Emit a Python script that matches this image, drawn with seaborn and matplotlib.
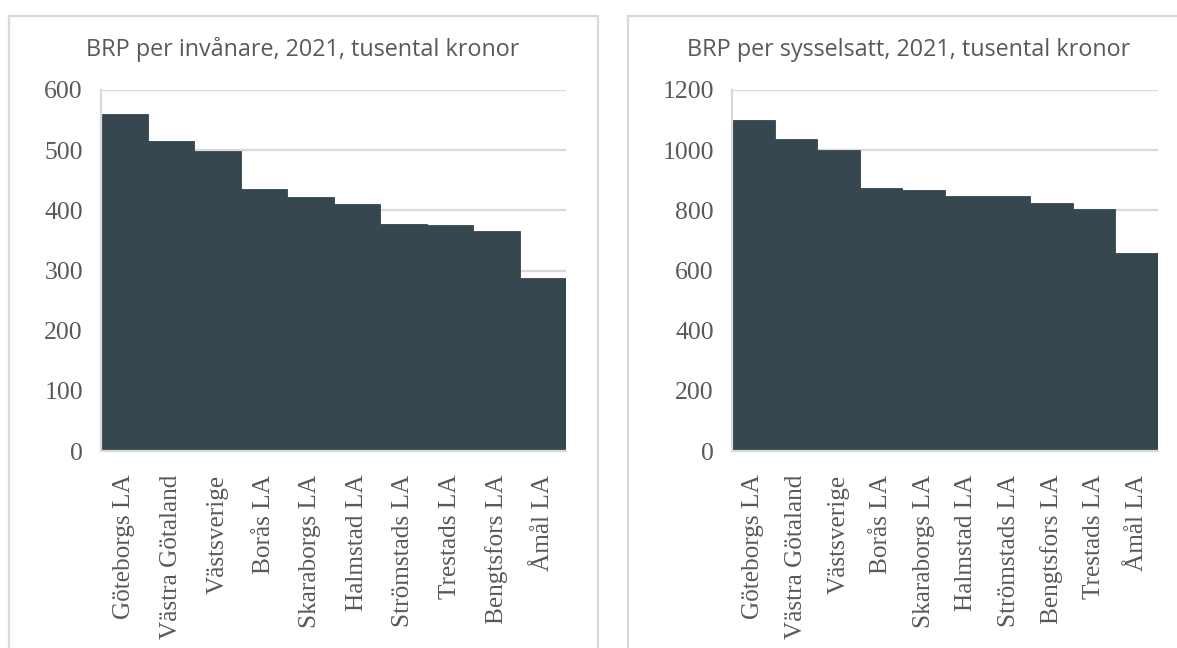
"""BRP per invånare / per sysselsatt, 2021 — two side-by-side bar charts."""
import matplotlib
matplotlib.use("Agg")
import matplotlib.pyplot as plt
from matplotlib.patches import Rectangle
import pandas as pd
import seaborn as sns

LEFT_TITLE = "BRP per invånare, 2021, tusental kronor"
LEFT_CATEGORIES = [
    "Göteborgs LA", "Västra Götaland", "Västsverige", "Borås LA",
    "Skaraborgs LA", "Halmstad LA", "Strömstads LA", "Trestads LA",
    "Bengtsfors LA", "Åmål LA",
]
LEFT_VALUES = [560, 516, 499, 435, 422, 410, 378, 375, 365, 287]
LEFT_TICKS = [0, 100, 200, 300, 400, 500, 600]

RIGHT_TITLE = "BRP per sysselsatt, 2021, tusental kronor"
RIGHT_CATEGORIES = [
    "Göteborgs LA", "Västra Götaland", "Västsverige", "Borås LA",
    "Skaraborgs LA", "Halmstad LA", "Strömstads LA", "Bengtsfors LA",
    "Trestads LA", "Åmål LA",
]
RIGHT_VALUES = [1100, 1036, 999, 873, 866, 846, 846, 826, 803, 657]
RIGHT_TICKS = [0, 200, 400, 600, 800, 1000, 1200]

BAR = "#36474f"
GRID = "#d9d9d9"
TEXT = "#595959"
W, H = 1177, 648

sns.set_theme(style="white")
plt.rcParams["font.family"] = ["Liberation Serif", "DejaVu Serif"]


def draw(ax, cats, vals, ticks):
    df = pd.DataFrame({"cat": cats, "val": vals})
    sns.barplot(data=df, x="cat", y="val", color=BAR, width=1.0,
                saturation=1, edgecolor=BAR, linewidth=0.6, ax=ax)
    ax.set_xlim(-0.5, len(cats) - 0.5)
    ax.set_ylim(ticks[0], ticks[-1])
    ax.set_yticks(ticks)
    ax.set_yticklabels([str(t) for t in ticks])
    ax.set_xlabel(""); ax.set_ylabel("")
    ax.yaxis.grid(True, color=GRID, lw=1.6)
    ax.set_axisbelow(True)
    for s in ("top", "right"):
        ax.spines[s].set_visible(False)
    for s in ("left", "bottom"):
        ax.spines[s].set_color(GRID)
        ax.spines[s].set_linewidth(1.6)
    ax.tick_params(axis="y", length=0, pad=13, labelsize=18.5, labelcolor=TEXT)
    ax.tick_params(axis="x", length=0, pad=17, labelsize=18.2, labelcolor=TEXT,
                   labelrotation=90)


fig = plt.figure(figsize=(W / 100, H / 100), dpi=100)
ax1 = fig.add_axes([101 / W, 1 - 451 / H, (566 - 101) / W, (451 - 90) / H])
ax2 = fig.add_axes([732 / W, 1 - 451 / H, (1158 - 732) / W, (451 - 90) / H])
draw(ax1, LEFT_CATEGORIES, LEFT_VALUES, LEFT_TICKS)
draw(ax2, RIGHT_CATEGORIES, RIGHT_VALUES, RIGHT_TICKS)

# chart frames
fig.add_artist(Rectangle((9 / W, -0.05), (598 - 9) / W, 1.05 - 16 / H,
                         transform=fig.transFigure, fill=False,
                         edgecolor=GRID, lw=1.6))
fig.add_artist(Rectangle((628 / W, -0.05), 0.5, 1.05 - 16 / H,
                         transform=fig.transFigure, fill=False,
                         edgecolor=GRID, lw=1.6))

fig.text(303 / W, 1 - 56 / H, LEFT_TITLE, ha="center", va="baseline",
         fontsize=16.8, color=TEXT, family=["Open Sans", "DejaVu Sans"])
fig.text(909 / W, 1 - 56 / H, RIGHT_TITLE, ha="center", va="baseline",
         fontsize=16.8, color=TEXT, family=["Open Sans", "DejaVu Sans"])

fig.savefig("out.png", dpi=100)
